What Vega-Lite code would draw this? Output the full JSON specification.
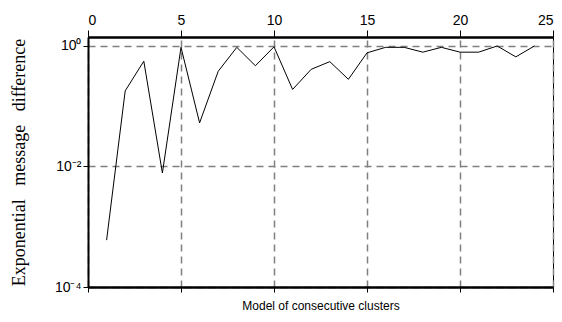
{
  "$schema": "https://vega.github.io/schema/vega-lite/v6.json",
  "width": 465,
  "height": 250,
  "autosize": {"type": "none"},
  "padding": {"left": 88, "top": 37, "right": 9, "bottom": 35},
  "background": "white",
  "config": {
    "view": {"stroke": "black", "strokeWidth": 1},
    "axis": {
      "gridColor": "#808080",
      "gridDash": [7, 5],
      "gridWidth": 1.5,
      "domainColor": "black",
      "tickColor": "black",
      "labelColor": "black",
      "titleColor": "black",
      "labelFont": "Liberation Sans",
      "titleFont": "Liberation Sans"
    }
  },
  "data": {
    "values": [
      {"x": 1, "v": 0.0006},
      {"x": 2, "v": 0.18},
      {"x": 3, "v": 0.56},
      {"x": 4, "v": 0.0078},
      {"x": 5, "v": 0.95},
      {"x": 6, "v": 0.053},
      {"x": 7, "v": 0.38},
      {"x": 8, "v": 0.95},
      {"x": 9, "v": 0.47},
      {"x": 10, "v": 0.97},
      {"x": 11, "v": 0.19},
      {"x": 12, "v": 0.41},
      {"x": 13, "v": 0.55},
      {"x": 14, "v": 0.28},
      {"x": 15, "v": 0.77},
      {"x": 16, "v": 0.95},
      {"x": 17, "v": 0.95},
      {"x": 18, "v": 0.79},
      {"x": 19, "v": 0.95},
      {"x": 20, "v": 0.79},
      {"x": 21, "v": 0.79},
      {"x": 22, "v": 1.0},
      {"x": 23, "v": 0.66},
      {"x": 24, "v": 1.0}
    ]
  },
  "layer": [
    {
      "mark": {"type": "line", "color": "black", "strokeWidth": 1},
      "encoding": {
        "x": {
          "field": "x",
          "type": "quantitative",
          "scale": {"domain": [0, 25], "nice": false, "zero": false},
          "axis": {
            "orient": "top",
            "values": [0, 5, 10, 15, 20, 25],
            "gridValues": [5, 10, 15, 20],
            "grid": true,
            "title": null,
            "domainWidth": 2.5,
            "tickSize": 7,
            "tickWidth": 1,
            "labelFontSize": 14,
            "labelPadding": 3
          }
        },
        "y": {
          "field": "v",
          "type": "quantitative",
          "scale": {"type": "log", "domain": [0.0001, 1.41], "nice": false},
          "axis": {
            "orient": "left",
            "values": [0.0001, 0.01, 1],
            "grid": true,
            "domainWidth": 2,
            "tickSize": 5,
            "labelFontSize": 14,
            "labelPadding": 2,
            "labelExpr": "datum.value >= 1 ? '10⁰' : datum.value >= 0.01 ? '10⁻²' : '10⁻⁴'",
            "title": "Exponential\u00a0\u00a0 message\u00a0\u00a0 difference",
            "titleFont": "Liberation Serif",
            "titleFontSize": 18,
            "titleFontWeight": "normal",
            "titlePadding": 26
          }
        }
      }
    },
    {
      "mark": {"type": "point", "opacity": 0},
      "encoding": {
        "x": {
          "field": "x",
          "type": "quantitative",
          "axis": {
            "orient": "bottom",
            "values": [0, 5, 10, 15, 20, 25],
            "grid": false,
            "labels": false,
            "domainWidth": 2.5,
            "tickSize": 5,
            "title": "Model of consecutive clusters",
            "titleFontSize": 12,
            "titleFontWeight": "normal",
            "titlePadding": 8
          }
        },
        "y": {"field": "v", "type": "quantitative"}
      }
    }
  ],
  "resolve": {"axis": {"x": "independent", "y": "shared"}}
}
